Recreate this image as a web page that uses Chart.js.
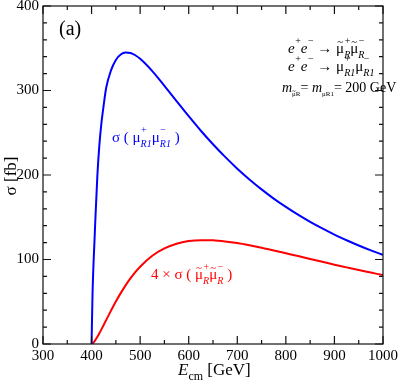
<!DOCTYPE html>
<html>
<head>
<meta charset="utf-8">
<script src="https://cdn.jsdelivr.net/npm/chart.js@4.4.0/dist/chart.umd.min.js"></script>
<style>
  body { margin: 0; background: #fff; }
</style>
</head>
<body>
<canvas id="sigmaChart" width="398" height="382"></canvas>
<script>
// centre-of-mass energy grid (GeV)
var energy = [400, 402, 404, 406, 408, 410, 412, 416, 420, 425, 430, 440, 450, 460, 470, 480, 490,
              500, 525, 550, 575, 600, 625, 650, 675, 700, 725, 750, 775, 800, 825, 850, 875,
              900, 925, 950, 975, 1000];
// sigma(muR1+ muR1-) [fb], blue
var sigmaMuR1 = [0, 60, 95, 122, 150, 175, 200, 235, 260, 283, 302.9, 323.9, 336.2, 342.6, 344.9, 344.3, 341.7,
                 337.5, 323.0, 305.6, 287.5, 269.6, 252.4, 236.4, 221.4, 207.5, 194.8, 183.0, 172.1, 162.2,
                 153.0, 144.5, 136.7, 129.4, 122.8, 116.6, 110.8, 105.4];
// 4 x sigma(smuR+ smuR-) [fb], red
var sigmaSmuR = [0, 0.6, 1.8, 3.2, 4.9, 6.7, 8.6, 12.7, 17, 22.6, 28.3, 39.5, 50.3, 60.2, 69.4, 77.6, 85,
                 91.5, 104.4, 113.1, 118.7, 121.8, 122.9, 122.7, 121.4, 119.4, 116.8, 113.9, 110.7, 107.4,
                 104.1, 100.6, 97.3, 93.9, 90.7, 87.5, 84.5, 81.5];

var xTicks = [300, 400, 500, 600, 700, 800, 900, 1000];
var yTicks = [0, 100, 200, 300, 400];

var serif = '"Liberation Serif", "Times New Roman", serif';

function pts(xs, ys) {
    return xs.map(function (x, i) { return { x: x, y: ys[i] }; });
}

// draw a string made of pieces with super/subscripts (and a tilde on top if asked)
function rich(ctx, x, y, parts, size, color) {
    ctx.fillStyle = color;
    ctx.textAlign = 'left';
    ctx.textBaseline = 'alphabetic';
    var small = Math.round(size * 0.68);
    parts.forEach(function (p) {
        ctx.font = (p.i ? 'italic ' : '') + size + 'px ' + serif;
        ctx.fillText(p.t, x, y);
        var w = ctx.measureText(p.t).width;
        if (p.tilde) {
            ctx.font = Math.round(size * 0.7) + 'px ' + serif;
            var tw = ctx.measureText('~').width;
            ctx.fillText('~', x + (w - tw) / 2, y - size * 0.52);
        }
        var w2 = 0;
        if (p.sup) {
            ctx.font = small + 'px ' + serif;
            ctx.fillText(p.sup, x + w + 0.5, y - size * 0.58);
            w2 = ctx.measureText(p.sup).width + 0.5;
        }
        if (p.sub) {
            var ss = p.subSize || small;
            ctx.font = (p.subI ? 'italic ' : '') + ss + 'px ' + serif;
            ctx.fillText(p.sub, x + w, y + size * 0.3);
            var sw = ctx.measureText(p.sub).width;
            if (p.subTilde) {
                var mw = ctx.measureText(p.sub.charAt(0)).width;
                ctx.font = ss + 'px ' + serif;
                ctx.fillText('~', x + w + (mw - ctx.measureText('~').width) / 2, y + size * 0.3 - ss * 0.5);
            }
            w2 = Math.max(w2, sw);
        }
        x += w + w2 + (p.gap || 0);
    });
}

var framePlugin = {
    id: 'frame',
    afterDraw: function (chart) {
        var ctx = chart.ctx, a = chart.chartArea;
        var xs = chart.scales.x, ys = chart.scales.y;
        ctx.save();
        ctx.strokeStyle = '#111';
        ctx.lineWidth = 1.2;
        ctx.strokeRect(a.left, a.top, a.right - a.left, a.bottom - a.top);
        ctx.beginPath();
        var v, p, len;
        for (v = 300; v <= 1000; v += 50) {
            p = xs.getPixelForValue(v);
            len = v % 100 === 0 ? 8 : 4;
            ctx.moveTo(p, a.bottom); ctx.lineTo(p, a.bottom - len);
            ctx.moveTo(p, a.top); ctx.lineTo(p, a.top + len);
        }
        for (v = 0; v <= 400; v += 20) {
            p = ys.getPixelForValue(v);
            len = v % 100 === 0 ? 8 : 4;
            ctx.moveTo(a.left, p); ctx.lineTo(a.left + len, p);
            ctx.moveTo(a.right, p); ctx.lineTo(a.right - len, p);
        }
        ctx.stroke();

        // axis titles
        rich(ctx, 178, 375, [{ t: 'E', i: 1, sub: 'cm', subSize: 12 }, { t: ' [GeV]' }], 17, '#000');
        ctx.save();
        ctx.translate(16, 176);
        ctx.rotate(-Math.PI / 2);
        ctx.font = '17px ' + serif;
        ctx.fillStyle = '#000';
        ctx.textAlign = 'center';
        ctx.textBaseline = 'alphabetic';
        ctx.fillText('σ [fb]', 0, 0);
        ctx.restore();

        // annotations
        ctx.font = '20px ' + serif;
        ctx.fillStyle = '#000';
        ctx.fillText('(a)', 59, 35);
        rich(ctx, 288, 53, [{ t: 'e', i: 1, sup: '+' }, { t: 'e', i: 1, sup: '−' }, { t: ' → ' },
            { t: 'μ', tilde: 1, sup: '+', sub: 'R', subI: 1 }, { t: 'μ', tilde: 1, sup: '−', sub: 'R', subI: 1 }], 15, '#000');
        rich(ctx, 288, 71, [{ t: 'e', i: 1, sup: '+' }, { t: 'e', i: 1, sup: '−' }, { t: ' → ' },
            { t: 'μ', sup: '+', sub: 'R1', subI: 1 }, { t: 'μ', sup: '−', sub: 'R1', subI: 1 }], 15, '#000');
        rich(ctx, 282, 92, [{ t: 'm', i: 1, sub: 'μR', subSize: 7, subTilde: 1 }, { t: '= ' },
            { t: 'm', i: 1, sub: 'μR1', subSize: 7 }, { t: '= 200 GeV' }], 14, '#000');
        rich(ctx, 112, 142, [{ t: 'σ ( ' }, { t: 'μ', sup: '+', sub: 'R1', subI: 1 },
            { t: 'μ', sup: '−', sub: 'R1', subI: 1 }, { t: ' )' }], 15, '#0000ff');
        rich(ctx, 151, 279, [{ t: '4 × σ ( ' }, { t: 'μ', tilde: 1, sup: '+', sub: 'R', subI: 1 },
            { t: 'μ', tilde: 1, sup: '−', sub: 'R', subI: 1 }, { t: ' )' }], 15, '#ff0000');
        ctx.restore();
    }
};

function noPad(s) {
    s.paddingLeft = 0; s.paddingRight = 0; s.paddingTop = 0; s.paddingBottom = 0;
}

var ctx = document.getElementById('sigmaChart').getContext('2d');

var sigmaChart = new Chart(ctx, {
    type: 'line',
    data: {
        datasets: [
            {
                label: 'sigma(muR1+ muR1-)',
                data: pts(energy, sigmaMuR1),
                borderColor: '#0000ff',
                borderWidth: 2,
                pointRadius: 0,
                fill: false,
                cubicInterpolationMode: 'monotone'
            },
            {
                label: '4 x sigma(smuR+ smuR-)',
                data: pts(energy, sigmaSmuR),
                borderColor: '#ff0000',
                borderWidth: 2,
                pointRadius: 0,
                fill: false,
                cubicInterpolationMode: 'monotone'
            }
        ]
    },
    options: {
        responsive: false,
        animation: false,
        devicePixelRatio: 1,
        layout: {
            autoPadding: false,
            padding: { top: 6, right: 15, left: 0, bottom: 0 }
        },
        plugins: {
            legend: { display: false },
            tooltip: { enabled: false }
        },
        scales: {
            x: {
                type: 'linear',
                min: 300,
                max: 1000,
                afterBuildTicks: function (s) { s.ticks = xTicks.map(function (v) { return { value: v }; }); },
                ticks: {
                    color: '#000', font: { family: serif, size: 15 }, padding: 3, maxRotation: 0,
                    callback: function (v) { return String(v); }
                },
                grid: { display: false, drawTicks: false },
                border: { display: false },
                afterFit: function (s) { s.height = 38; noPad(s); }
            },
            y: {
                min: 0,
                max: 400,
                afterBuildTicks: function (s) { s.ticks = yTicks.map(function (v) { return { value: v }; }); },
                ticks: {
                    color: '#000', font: { family: serif, size: 15 }, padding: 4,
                    callback: function (v) { return String(v); }
                },
                grid: { display: false, drawTicks: false },
                border: { display: false },
                afterFit: function (s) { s.width = 43; noPad(s); }
            }
        }
    },
    plugins: [framePlugin]
});
</script>
</body>
</html>
